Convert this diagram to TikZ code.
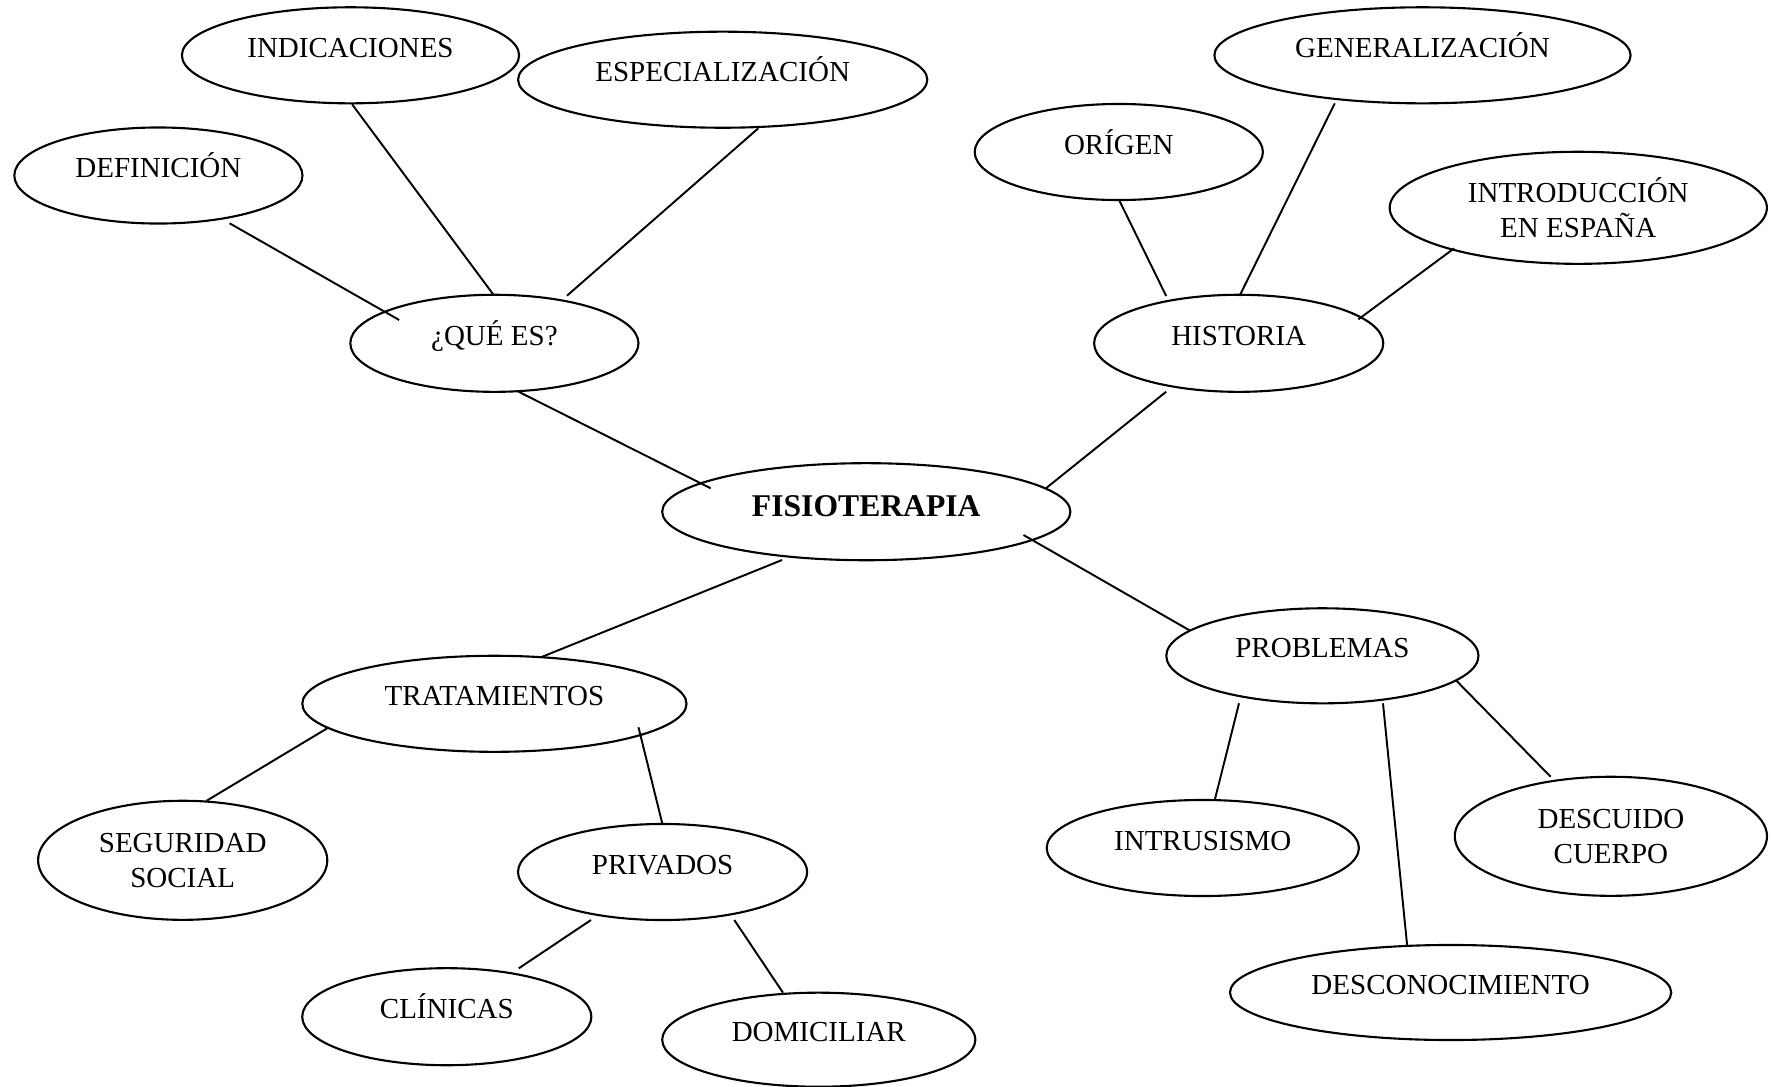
\documentclass[tikz,border=0pt]{standalone}
\usepackage{fontspec}
\setmainfont{Liberation Serif}
\usetikzlibrary{shapes.geometric}
\begin{document}
\begin{tikzpicture}[x=0.01cm,y=-0.01cm,
  bub/.style 2 args={ellipse, draw, line width=0.6pt, inner sep=0pt,
    minimum width=#1*0.1mm, minimum height=#2*0.1mm,
    font=\fontsize{8.25}{9.9}\selectfont},
  one/.style={text height=2mm, text depth=1.57mm},
  two/.style={align=center},
  link/.style={line width=0.55pt}]
\useasboundingbox (0,0) rectangle (1771,1087);
% nodes
\node[bub={288}{96},one] (def) at (158.4,175.5) {DEFINICIÓN};
\node[bub={337}{96},one] (ind) at (350.5,55.3) {INDICACIONES};
\node[bub={409}{96},one] (esp) at (722.7,79.7) {ESPECIALIZACIÓN};
\node[bub={288}{97},one] (que) at (494.4,343.3) {¿QUÉ ES?};
\node[bub={408}{97},font=\fontsize{9}{10.8}\selectfont\bfseries,
      text height=2.2mm, text depth=1.3mm] (fis) at (866.3,511.7) {FISIOTERAPIA};
\node[bub={289}{97},one] (his) at (1238.7,343.3) {HISTORIA};
\node[bub={288}{96},one] (ori) at (1118.8,152) {ORÍGEN};
\node[bub={416}{96},one] (gen) at (1422.5,55.3) {GENERALIZACIÓN};
\node[bub={377}{112},two] (int) at (1578.3,207.8) {INTRODUCCIÓN\\EN ESPAÑA};
\node[bub={384}{96},one] (tra) at (494.4,703.8) {TRATAMIENTOS};
\node[bub={289}{119},two] (seg) at (182.7,860.3) {SEGURIDAD\\SOCIAL};
\node[bub={289}{96},one] (pri) at (662.6,872) {PRIVADOS};
\node[bub={289}{97},one] (cli) at (446.8,1016.7) {CLÍNICAS};
\node[bub={313}{94},one] (dom) at (818.8,1039.7) {DOMICILIAR};
\node[bub={312}{95},one] (pro) at (1322.4,655.8) {PROBLEMAS};
\node[bub={312}{96},one] (itr) at (1202.8,848) {INTRUSISMO};
\node[bub={441}{95},one] (dcn) at (1450.6,992.5) {DESCONOCIMIENTO};
\node[bub={312}{119},two] (dcu) at (1610.9,836.3) {DESCUIDO\\CUERPO};
% connectors
\draw[link] ([shift={(71.2,47.8)}]def.center) -- ([shift={(-95.2,-23.3)}]que.center);
\draw[link] ([shift={(1.6,49)}]ind.center) -- ([shift={(-0.7,-48.3)}]que.center);
\draw[link] ([shift={(35.6,48.6)}]esp.center) -- ([shift={(72.6,-47.6)}]que.center);
\draw[link] ([shift={(24.2,48.4)}]que.center) -- ([shift={(-155.6,-23.4)}]fis.center);
\draw[link] ([shift={(-72.5,48.4)}]his.center) -- ([shift={(179.6,-23.4)}]fis.center);
\draw[link] ([shift={(0.3,48)}]ori.center) -- ([shift={(-72.5,-47.3)}]his.center);
\draw[link] ([shift={(-87.7,48)}]gen.center) -- ([shift={(0.8,-47.3)}]his.center);
\draw[link] ([shift={(-124.1,40.5)}]int.center) -- ([shift={(119.7,-24)}]his.center);
\draw[link] ([shift={(-84.2,48.3)}]fis.center) -- ([shift={(47.9,-47.1)}]tra.center);
\draw[link] ([shift={(157.2,23.3)}]fis.center) -- ([shift={(-132.2,-25.1)}]pro.center);
\draw[link] ([shift={(-167.2,24.5)}]tra.center) -- ([shift={(24,-59.6)}]seg.center);
\draw[link] ([shift={(144.1,23.5)}]tra.center) -- ([shift={(-0.2,-48)}]pri.center);
\draw[link] ([shift={(-71.6,48)}]pri.center) -- ([shift={(72,-48.4)}]cli.center);
\draw[link] ([shift={(71.7,48)}]pri.center) -- ([shift={(-35.8,-47)}]dom.center);
\draw[link] ([shift={(-83.4,47.5)}]pro.center) -- ([shift={(12,-48)}]itr.center);
\draw[link] ([shift={(60.6,47.5)}]pro.center) -- ([shift={(-43.5,-47.5)}]dcn.center);
\draw[link] ([shift={(134.1,25)}]pro.center) -- ([shift={(-60.3,-59.6)}]dcu.center);
\end{tikzpicture}
\end{document}
